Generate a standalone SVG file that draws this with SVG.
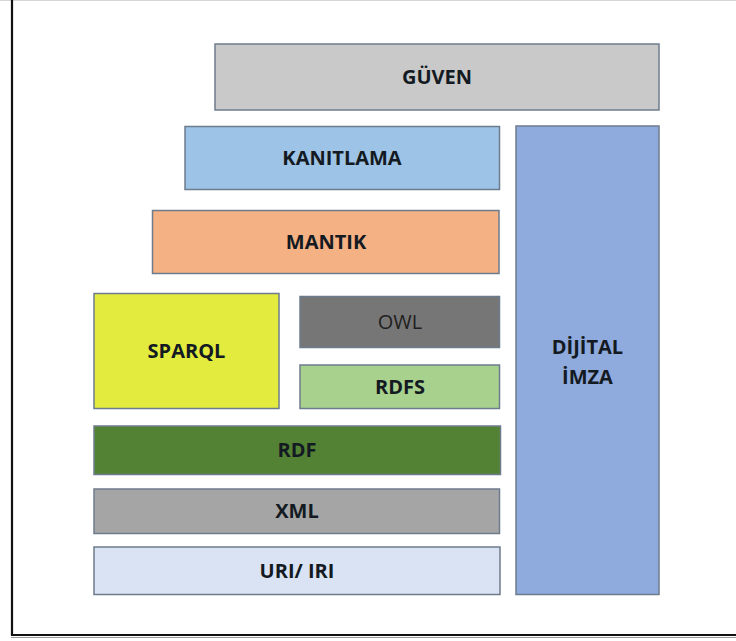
<svg xmlns="http://www.w3.org/2000/svg" width="736" height="641" viewBox="0 0 736 641">
  <style>
    .box { stroke: #6d7c8c; stroke-width: 1.5; }
    .lbl { font-family: "Open Sans", "Liberation Sans", sans-serif; font-size: 20px; font-weight: 700; fill: #141a22; text-anchor: middle; }
    .reg { font-weight: 400; fill: #202020; }
  </style>
  <rect width="736" height="641" fill="#ffffff"/>
  <!-- page frame -->
  <g id="frame">
    <line x1="0" y1="0.5" x2="736" y2="0.5" stroke="#d6d6d6" stroke-width="1"/>
    <line x1="12" y1="0" x2="12" y2="636" stroke="#111111" stroke-width="2.2"/>
    <line x1="11" y1="635" x2="736" y2="635" stroke="#111111" stroke-width="2.2"/>
    <line x1="11" y1="637.5" x2="736" y2="637.5" stroke="#9a9a9a" stroke-width="1"/>
  </g>
  <g id="guven">
    <rect class="box" x="215" y="44" width="444" height="66" fill="#c9c9c9"/>
    <text class="lbl" x="437" y="84">GÜVEN</text>
  </g>
  <g id="kanitlama">
    <rect class="box" x="185" y="126.5" width="314.5" height="63" fill="#9dc3e6"/>
    <text class="lbl" x="342" y="165">KANITLAMA</text>
  </g>
  <g id="mantik">
    <rect class="box" x="152.5" y="210.5" width="346.5" height="63" fill="#f4b183"/>
    <text class="lbl" x="326" y="249">MANTIK</text>
  </g>
  <g id="sparql">
    <rect class="box" x="94" y="293.5" width="185" height="115" fill="#e3ec3e"/>
    <text class="lbl" x="186.5" y="358">SPARQL</text>
  </g>
  <g id="owl">
    <rect class="box" x="300" y="296.5" width="199.5" height="51" fill="#767676"/>
    <text class="lbl reg" x="400" y="329">OWL</text>
  </g>
  <g id="rdfs">
    <rect class="box" x="300" y="365" width="199.5" height="43.5" fill="#a9d18e"/>
    <text class="lbl" x="400" y="394">RDFS</text>
  </g>
  <g id="rdf">
    <rect class="box" x="94" y="426" width="406.5" height="48.5" fill="#548235"/>
    <text class="lbl" x="297" y="457">RDF</text>
  </g>
  <g id="xml">
    <rect class="box" x="94" y="489" width="405.5" height="44.5" fill="#a5a5a5"/>
    <text class="lbl" x="297" y="518">XML</text>
  </g>
  <g id="uri-iri">
    <rect class="box" x="94" y="547" width="406" height="47.5" fill="#dae3f3"/>
    <text class="lbl" x="297" y="578">URI/ IRI</text>
  </g>
  <g id="dijital-imza">
    <rect class="box" x="516" y="126" width="143" height="468.5" fill="#8faadc"/>
    <text class="lbl" x="587.5" y="354">DİJİTAL</text>
    <text class="lbl" x="587.5" y="384">İMZA</text>
  </g>
  <g id="connectors"/>
</svg>
